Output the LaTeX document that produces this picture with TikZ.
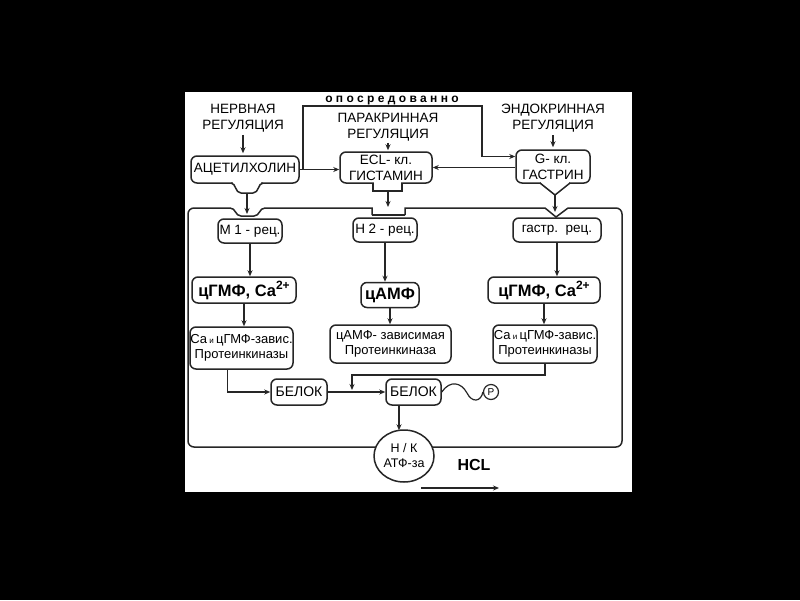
\documentclass[tikz,border=0pt]{standalone}
\usepackage{fontspec}
\setmainfont{Liberation Sans}
\usetikzlibrary{arrows.meta,shapes.geometric,calc}

\begin{document}
\begin{tikzpicture}[x=1pt,y=-1pt, font=\fontsize{13.5}{16}\selectfont,
  box/.style={draw=black!85, line width=1.5pt, rounded corners=6pt, fill=white, align=center, inner sep=0pt},
  lbl/.style={align=center, inner sep=0pt, font=\fontsize{13.5}{15.5}\selectfont},
  big/.style={box, font=\bfseries\fontsize{16.5}{18}\selectfont},
  kin/.style={box, font=\fontsize{13}{15.5}\selectfont},
  arr/.style={-{Stealth[length=6pt,width=5pt]}, line width=1.2pt, draw=black!85},
  fat/.style={arr, line width=2.4pt},
  wall/.style={draw=black!85, line width=1.5pt},
  ]
\useasboundingbox (0,0) rectangle (800,600);
\fill[black] (0,0) rectangle (800,600);
\fill[white] (185,92) rectangle (632,492);
% ---- the three ways of regulation
\node[lbl] (nerv) at (243,118) {НЕРВНАЯ\\РЕГУЛЯЦИЯ};
\node[lbl] (para) at (388,127) {ПАРАКРИННАЯ\\РЕГУЛЯЦИЯ};
\node[lbl] (endo) at (553,118) {ЭНДОКРИННАЯ\\РЕГУЛЯЦИЯ};
\node[lbl, anchor=base, font=\bfseries\fontsize{12}{14}\selectfont] (opos) at (392,102.5) {о п о с р е д о в а н н о};
\node[box, minimum width=108, minimum height=27] (ach) at (245,169.5) {АЦЕТИЛХОЛИН};
\node[box, minimum width=92, minimum height=31] (ecl) at (386,167.5) {ECL- кл.\\ГИСТАМИН};
\node[box, minimum width=74, minimum height=33] (gk) at (553,166.5) {G- кл.\\ГАСТРИН};
\draw[arr, shorten <=3pt, shorten >=2pt] (nerv.south) -- (nerv.south |- ach.north);
\draw[arr, shorten <=2pt, shorten >=1pt] (para.south) -- (para.south |- ecl.north);
\draw[arr, shorten <=3pt, shorten >=2pt] (endo.south) -- (endo.south |- gk.north);
\draw[arr] (ach) -- (ach -| ecl.west);
\draw[arr] (gk.west |- ecl) -- (ecl.east);
\coordinate (opA) at (303,106);
\coordinate (opB) at (482,106);
\coordinate (gkin) at ($(gk.west)+(0,-10)$);
\draw[arr] (ach -| opA) -- (opA) -- (opB) -- (opB |- gkin) -- (gkin);
% ---- tabs under the cells
\fill[white] (233,181.5) rectangle (261,184.5);
\draw[wall] (231,183) .. controls (236,183) and (235,193) .. (241,193) -- (253,193)
  .. controls (259,193) and (258,183) .. (263,183);
\fill[white] (374,181.5) rectangle (401,184.5);
\draw[wall] (373,183) -- (373,191) -- (402,191) -- (402,183);
\fill[white] (541,181.5) rectangle (569,184.5);
\draw[wall] (540,183) -- (555,195) -- (570,183);
% ---- the cell wall, with its receptors
\draw[wall, rounded corners=6pt] (230,208) -- (188,208) -- (188,447) -- (622,447) -- (622,208) -- (568,208);
\draw[wall] (230,208) .. controls (236,208) and (235,216) .. (241,216) -- (254,216)
  .. controls (260,216) and (259,208) .. (265,208) -- (372,208) -- (372,215);
\draw[wall, line width=2.2pt] (372,215) -- (405,215);
\draw[wall] (405,215) -- (405,208) -- (545,208) -- (556,217) -- (568,208);
\coordinate (achT) at (247,193);
\coordinate (cupB) at (247,214);
\coordinate (eclT) at (388,191);
\coordinate (notB) at (388,207);
\coordinate (gkT) at (555,195);
\coordinate (vB) at (555,212);
\draw[arr] (achT) -- (cupB);
\draw[arr] (eclT) -- (notB);
\draw[arr] (gkT) -- (vB);
% ---- inside the cell
\node[box, minimum width=64, minimum height=24] (m1) at (250,231) {М 1 - рец.};
\node[box, minimum width=64, minimum height=24] (h2) at (385,230) {Н 2 - рец.};
\node[box, minimum width=88, minimum height=24] (gr) at (557,230) {гастр.\ \ рец.};
\node[big, minimum width=104, minimum height=26] (cg1) at (244,290) {цГМФ, Са\raisebox{7pt}{\fontsize{12}{12}\selectfont 2+}};
\node[big, minimum width=58, minimum height=25] (camp) at (390,295) {цАМФ};
\node[big, minimum width=112, minimum height=26] (cg2) at (544,290) {цГМФ, Са\raisebox{7pt}{\fontsize{12}{12}\selectfont 2+}};
\node[kin, minimum width=103, minimum height=42] (pk1) at (241.5,348) {Са{\fontsize{8}{8}\selectfont\ и\ }цГМФ-завис.\\Протеинкиназы};
\node[kin, minimum width=121, minimum height=38] (pk2) at (390.5,344) {цАМФ- зависимая\\Протеинкиназа};
\node[kin, minimum width=104, minimum height=38] (pk3) at (545,344) {Са{\fontsize{8}{8}\selectfont\ и\ }цГМФ-завис.\\Протеинкиназы};
\node[box, minimum width=56, minimum height=26, font=\fontsize{14}{16}\selectfont] (bel1) at (299,392) {БЕЛОК};
\node[box, minimum width=55, minimum height=26, font=\fontsize{14}{16}\selectfont] (bel2) at (413.5,392) {БЕЛОК};
\node[circle, draw=black!85, line width=1.2pt, fill=white, inner sep=0pt, minimum size=15,
      font=\fontsize{10}{10}\selectfont] (pp) at (491,392) {Р};
\node[ellipse, draw=black!85, line width=1.5pt, fill=white, inner sep=0pt, minimum width=60, minimum height=52,
      align=center, font=\fontsize{12.5}{15}\selectfont] (atp) at (404,456) {Н / К\\АТФ-за};
\node[lbl, font=\bfseries\fontsize{16}{18}\selectfont] (hcl) at (474,465) {HCL};
\draw[arr] (m1.south) -- (m1.south |- cg1.north);
\draw[arr] (cg1.south) -- (cg1.south |- pk1.north);
\draw[arr] (h2.south) -- (h2.south |- camp.north);
\draw[arr] (camp.south) -- (camp.south |- pk2.north);
\draw[arr] (gr.south) -- (gr.south |- cg2.north);
\draw[arr] (cg2.south) -- (cg2.south |- pk3.north);
\draw[arr] ($(pk1.south)+(-14,0)$) |- (bel1.west);
\coordinate (jn) at (352,375);
\draw[arr] (pk3.south) |- (jn) -- ($(jn |- bel1)+(0,-2)$);
\draw[wall, line width=1.2pt] ($(pk2.south)+(8,0)$) -- ($(pk2.south)+(8,0)$ |- jn);
\draw[fat] (bel1) -- (bel2);
\coordinate (atpin) at ($(atp.north)+(-5,1)$);
\draw[arr, line width=1.8pt] (bel2.south -| atpin) -- (atpin);
\draw[wall, line width=1.2pt] (bel2.east) .. controls (450,380) and (461,382) .. (467,393)
  .. controls (472,403) and (481,402) .. (pp.west);
\coordinate (hclA) at (421,488);
\coordinate (hclB) at (499,488);
\draw[arr, line width=1.2pt] (hclA) -- (hclB);
\end{tikzpicture}
\end{document}
